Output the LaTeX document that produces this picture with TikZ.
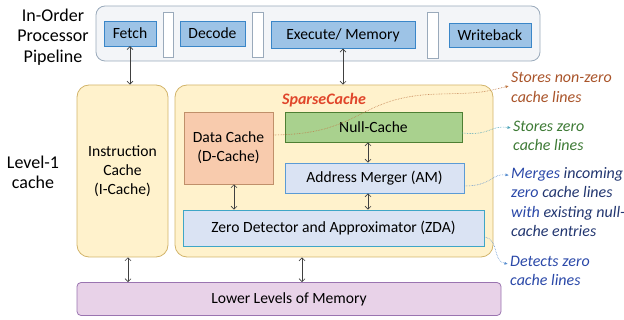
\documentclass[tikz,border=0pt]{standalone}
\usepackage{fontspec}
\setmainfont{Carlito}
\usetikzlibrary{arrows.meta, positioning, calc}
\definecolor{pipefill}{HTML}{F3F5F8}
\definecolor{pipeline}{HTML}{9AAABB}
\definecolor{stagefill}{HTML}{9DC3E6}
\definecolor{stageline}{HTML}{3A86C8}
\definecolor{lonefill}{HTML}{FFF2CC}
\definecolor{loneline}{HTML}{D2B46A}
\definecolor{dfill}{HTML}{F8CBAD}
\definecolor{dline}{HTML}{C0906A}
\definecolor{nullfill}{HTML}{A9D18E}
\definecolor{nullline}{HTML}{4E7F33}
\definecolor{unitfill}{HTML}{DAE3F3}
\definecolor{unitline}{HTML}{5B9BD5}
\definecolor{zdaline}{HTML}{3FA6C6}
\definecolor{lowfill}{HTML}{E8D2E8}
\definecolor{lowline}{HTML}{9A74B0}
\definecolor{sparsered}{HTML}{E0452A}
\definecolor{notebrown}{HTML}{A9542A}
\definecolor{notegreen}{HTML}{3D7A35}
\definecolor{noteblue}{HTML}{223670}
\definecolor{notebright}{HTML}{2A48A8}
\definecolor{linkbrown}{HTML}{C07A48}
\definecolor{linkteal}{HTML}{4BA3B8}
\definecolor{linkblue}{HTML}{5B8FD0}

\begin{document}
\begin{tikzpicture}[
      x=1pt, y=-1pt,
      font=\fontsize{15.6}{19}\selectfont,
      side/.style={align=center, font=\fontsize{18}{20.5}\selectfont},
      stage/.style={rectangle, draw=stageline, fill=stagefill, inner sep=0pt, minimum height=25pt},
      latch/.style={rectangle, draw=pipeline, fill=white, thick, inner sep=0pt, minimum width=10pt, minimum height=45pt},
      lone/.style={rectangle, rounded corners=12pt, draw=loneline, thick, fill=lonefill, inner sep=0pt},
      unit/.style={rectangle, draw=unitline, thick, fill=unitfill, inner sep=0pt, minimum height=30pt},
      note/.style={anchor=west, align=left, inner sep=2pt, font=\fontsize{16}{19.3}\selectfont\itshape},
      link/.style={densely dotted, semithick, -{Latex[length=3.5pt, width=3pt]}},
      arr/.style={{Straight Barb[length=3pt]}-{Straight Barb[length=3pt]}, semithick, black!75}
    ]
      \useasboundingbox (0,0) rectangle (624,320);
      % processor pipeline
      \node[rectangle, rounded corners=9pt, draw=pipeline, thick, fill=pipefill,
            minimum width=444pt, minimum height=55pt] (pipe) at (318,33.5) {};
      \node[side] (pipelbl) at (53,37) {In-Order\\Processor\\Pipeline};
      \node[stage, minimum width=52pt] (fetch) at (130,33.5) {Fetch};
      \node[latch] (latchA) at (168,34.5) {};
      \node[stage, minimum width=65pt] (decode) at (212.5,33.5) {Decode};
      \node[latch, minimum width=11pt] (latchB) at (257.5,34.5) {};
      \node[stage, minimum width=144pt, minimum height=27pt] (exec) at (343,35) {Execute/ Memory};
      \node[latch, minimum width=11pt, minimum height=46pt] (latchC) at (432.5,35) {};
      \node[stage, minimum width=82pt, minimum height=24pt] (wb) at (490,35) {Writeback};

      % level-1 caches
      \node[side] (l1lbl) at (33,172.5) {Level-1\\cache};
      \node[lone, minimum width=91pt, minimum height=172pt, align=center] (icache) at (122.5,171) {Instruction\\Cache\\(I-Cache)};
      \node[lone, minimum width=318pt, minimum height=172pt] (sparse) at (334,171) {};
      \node[font=\fontsize{16}{20}\selectfont\bfseries\itshape, text=sparsered] (sparselbl) at (324,100) {SparseCache};
      \node[rectangle, draw=dline, thick, fill=dfill, minimum width=89pt, minimum height=72pt,
            inner sep=0pt, align=center] (dcache) at (228.5,148) {Data Cache\\(D-Cache)};
      \node[unit, draw=nullline, fill=nullfill, minimum width=177pt] (null) at (373.5,127) {Null-Cache};
      \node[unit, minimum width=179pt] (am) at (374.5,178) {Address Merger (AM)};
      \node[unit, draw=zdaline, minimum width=301pt, minimum height=36pt] (zda) at (333.5,228) {Zero Detector and Approximator (ZDA)};

      % lower levels
      \node[rectangle, rounded corners=4pt, draw=lowline, thick, fill=lowfill,
            minimum width=424pt, minimum height=33pt] (lower) at (289,299) {Lower Levels of Memory};

      % notes on the right
      \node[note, text=notebrown] (nzlines) at (509,87.5) {Stores non-zero\\cache lines};
      \node[note, text=notegreen] (zlines) at (511,136) {Stores zero\\cache lines};
      \node[note, text=noteblue] (merge) at (509,202)
            {\textcolor{notebright}{Merges} incoming\\\textcolor{notebright}{zero} cache lines\\\textcolor{notebright}{with} existing null-\\cache entries};
      \node[note, text=notebright] (detect) at (508,271) {Detects zero\\cache lines};

      % data paths
      \draw[arr] (fetch.south) -- (fetch.south |- icache.north);
      \draw[arr] (exec.south) -- (exec.south |- sparse.north);
      \draw[arr] ([xshift=5.5pt]icache.south) -- ([xshift=5.5pt]icache.south |- lower.north);
      \draw[arr] ([xshift=-32pt]sparse.south) -- ([xshift=-32pt]sparse.south |- lower.north);
      \draw[arr] ([xshift=5.5pt]dcache.south) -- ([xshift=5.5pt]dcache.south |- zda.north);
      \draw[arr] ([xshift=-5.5pt]null.south) -- ([xshift=-5.5pt]null.south |- am.north);
      \draw[arr] ([xshift=-6.5pt]am.south) -- ([xshift=-6.5pt]am.south |- zda.north);

      % dotted links to the notes
      \draw[link, linkbrown] ([yshift=13pt]dcache.east) .. controls (365,134) and (355,96) .. (440,94)
            .. controls (480,93) .. ($(nzlines.west)+(0,-1.5)$);
      \draw[link, linkteal] ([yshift=-6pt]null.east) .. controls (490,136) and (490,125) .. ($(zlines.north west)+(0,9)$);
      \draw[link, linkblue] ([yshift=-8pt]am.east) .. controls (492,186) and (492,173) .. ($(merge.north west)+(0,10)$);
      \draw[link, linkblue] ([yshift=-9pt]zda.east) .. controls (500,240) and (492,261) .. ($(detect.north west)+(0,10)$);
    \end{tikzpicture}
\end{document}
